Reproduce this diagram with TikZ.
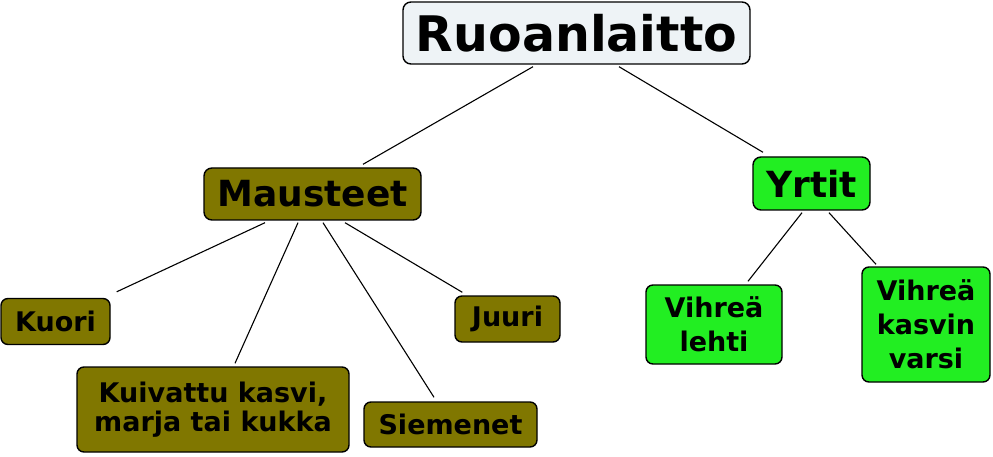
\documentclass[tikz,border=0pt]{standalone}
\usepackage{fontspec}
\setmainfont{DejaVu Sans}
\definecolor{rootfill}{RGB}{238,243,246}
\definecolor{olivefill}{RGB}{128,119,0}
\definecolor{greenfill}{RGB}{34,238,34}
\tikzset{
  box/.style={draw=black, line width=1.4pt, rounded corners=8pt, inner sep=0pt, align=center, text=black},
  rootbox/.style={box, fill=rootfill, font=\fontsize{49}{55}\selectfont\bfseries},
  midbox/.style={box, font=\fontsize{36}{40}\selectfont\bfseries},
  leafbox/.style={box, rounded corners=7pt, font=\fontsize{27}{29}\selectfont\bfseries},
  greenleaf/.style={leafbox, fill=greenfill, font=\fontsize{27}{34}\selectfont\bfseries},
  oliveleaf/.style={leafbox, fill=olivefill},
  link/.style={draw=black, line width=1.1pt}
}
\begin{document}
\begin{tikzpicture}[x=1pt,y=-1pt]
\useasboundingbox (0,0) rectangle (993,457);
\fill[white] (0,0) rectangle (993,457);
% nodes
\node[rootbox, minimum width=347pt, minimum height=62pt] (ruo) at (576.5,33) {Ruoanlaitto};
\node[midbox, fill=olivefill, minimum width=217pt, minimum height=52pt] (mau) at (312.5,194) {Mausteet};
\node[midbox, fill=greenfill, minimum width=117pt, minimum height=53pt] (yrt) at (811.5,183.5) {Yrtit};
\node[oliveleaf, minimum width=109pt, minimum height=46pt] (kuo) at (55.5,321.5) {Kuori};
\node[oliveleaf, minimum width=105pt, minimum height=46pt] (juu) at (507.5,319) {Juuri};
\node[oliveleaf, minimum width=272pt, minimum height=85pt] (kui) at (213,409.5) {Kuivattu kasvi,\\marja tai kukka};
\node[oliveleaf, minimum width=173pt, minimum height=45pt] (sie) at (450.5,424.5) {Siemenet};
\node[greenleaf, minimum width=136pt, minimum height=79pt] (leh) at (714,324.5) {Vihreä\\lehti};
\node[greenleaf, minimum width=128pt, minimum height=115pt] (var) at (926,324.5) {Vihreä\\kasvin\\varsi};
% connectors
\draw[link] ([xshift=-43.5pt,yshift=-2pt]ruo.south) -- ([xshift=50.5pt,yshift=3pt]mau.north);
\draw[link] ([xshift=42.5pt,yshift=-2pt]ruo.south) -- ([xshift=-48.5pt,yshift=4pt]yrt.north);
\draw[link] ([xshift=-47.5pt,yshift=-2pt]mau.south) -- ([shift={(6pt,6pt)}]kuo.north east);
\draw[link] ([xshift=-14.5pt,yshift=-2pt]mau.south) -- ([xshift=22pt,yshift=3pt]kui.north);
\draw[link] ([xshift=10.5pt,yshift=-2pt]mau.south) -- ([xshift=-16.5pt,yshift=4pt]sie.north);
\draw[link] ([xshift=32.5pt,yshift=-2pt]mau.south) -- ([shift={(8pt,3pt)}]juu.north west);
\draw[link] ([xshift=-9.5pt,yshift=-2pt]yrt.south) -- ([xshift=34pt,yshift=3pt]leh.north);
\draw[link] ([xshift=17.5pt,yshift=-2pt]yrt.south) -- ([xshift=-50pt,yshift=2pt]var.north);
\end{tikzpicture}
\end{document}
